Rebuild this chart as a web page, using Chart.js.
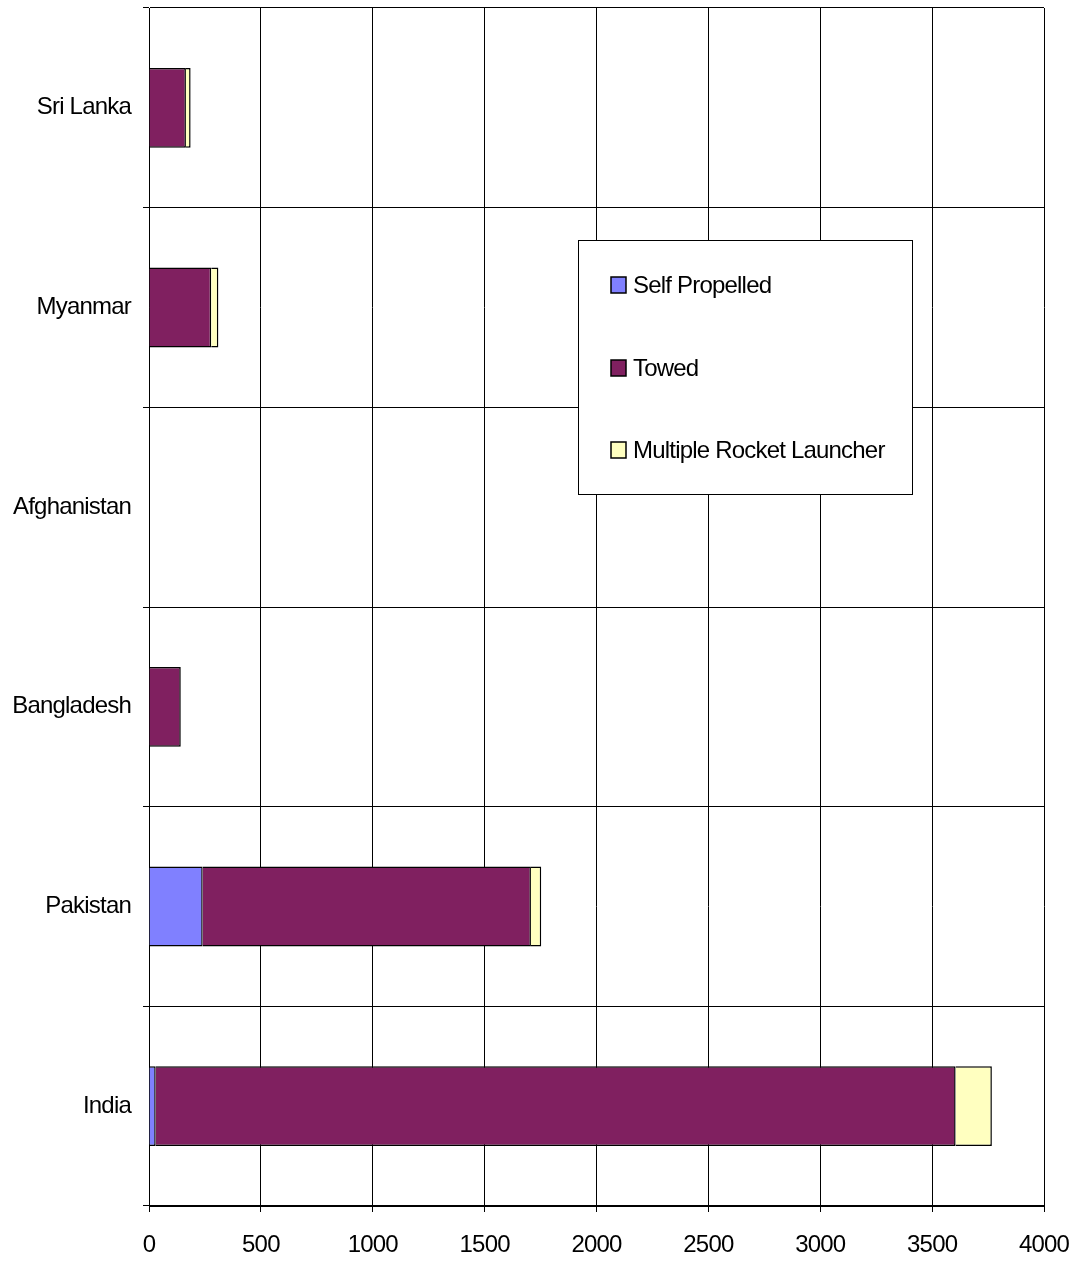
<!DOCTYPE html>
<html>
<head>
<meta charset="utf-8">
<script src="https://cdn.jsdelivr.net/npm/chart.js@4"></script>
<style>
  html, body { margin: 0; padding: 0; background: #fff; }
  #wrap { width: 1083px; height: 1261px; position: relative; }
</style>
</head>
<body>
<div id="wrap"><canvas id="c" width="1083" height="1261"></canvas></div>
<script>
const categories = ['Sri Lanka', 'Myanmar', 'Afghanistan', 'Bangladesh', 'Pakistan', 'India'];
const selfPropelled = [0, 0, 0, 0, 240, 30];
const towed = [165, 278, 0, 142, 1467, 3575];
const multipleRocketLauncher = [21, 32, 0, 0, 46, 162];
const seriesNames = ['Self Propelled', 'Towed', 'Multiple Rocket Launcher'];
const seriesColors = ['#8080FF', '#802060', '#FFFFC0'];
const xTicks = [0, 500, 1000, 1500, 2000, 2500, 3000, 3500, 4000];

const FONT = "'Liberation Sans', Arial, sans-serif";

const spacingPlugin = {
  id: 'spacing',
  beforeDraw(chart) { chart.ctx.letterSpacing = '-0.8px'; }
};

const boxLegend = {
  id: 'boxLegend',
  afterDraw(chart) {
    const ctx = chart.ctx;
    ctx.save();
    ctx.letterSpacing = '-0.8px';
    const x0 = 578.5, y0 = 240.5, w = 334, h = 254;
    ctx.fillStyle = '#fff';
    ctx.fillRect(x0, y0, w, h);
    ctx.strokeStyle = '#000';
    ctx.lineWidth = 1;
    ctx.strokeRect(x0, y0, w, h);
    const rows = [285, 368, 450];
    ctx.font = '24px ' + FONT;
    ctx.textBaseline = 'middle';
    ctx.textAlign = 'left';
    chart.data.datasets.forEach((ds, i) => {
      const cy = rows[i];
      ctx.fillStyle = ds.backgroundColor;
      ctx.fillRect(611, cy - 8, 15, 16);
      ctx.strokeStyle = '#000';
      ctx.lineWidth = 1.5;
      ctx.strokeRect(611, cy - 8, 15, 16);
      ctx.fillStyle = '#000';
      ctx.fillText(ds.label, 633, cy + 1);
    });
    ctx.restore();
  }
};

const datasets = [selfPropelled, towed, multipleRocketLauncher].map((vals, i) => ({
  label: seriesNames[i],
  data: vals,
  backgroundColor: seriesColors[i],
  borderColor: '#000',
  borderWidth: 1.5,
  borderSkipped: 'start',
  categoryPercentage: 1,
  barPercentage: 0.4
}));

new Chart(document.getElementById('c'), {
  type: 'bar',
  data: { labels: categories, datasets },
  options: {
    indexAxis: 'y',
    responsive: false,
    animation: false,
    devicePixelRatio: 1,
    layout: { padding: { top: 8, right: 39, left: 0, bottom: 0 } },
    plugins: { legend: { display: false }, tooltip: { enabled: false } },
    scales: {
      x: {
        stacked: true,
        min: 0, max: 4000,
        afterBuildTicks(scale) { scale.ticks = xTicks.map(v => ({ value: v })); },
        afterFit(scale) { scale.height = 55; scale.paddingLeft = 0; scale.paddingRight = 0; },
        grid: { color: '#000', lineWidth: 1, tickLength: 6, drawTicks: true },
        border: { color: '#000', width: 1 },
        ticks: { color: '#000', font: { family: FONT, size: 24 }, padding: 19, maxRotation: 0,
                 callback: (v) => String(v) }
      },
      y: {
        stacked: true,
        afterFit(scale) { scale.width = 149; scale.paddingTop = 0; scale.paddingBottom = 0; },
        grid: { color: '#000', lineWidth: 1, tickLength: 6, offset: true },
        border: { color: '#000', width: 1 },
        ticks: { color: '#000', font: { family: FONT, size: 24 }, padding: 12 }
      }
    }
  },
  plugins: [spacingPlugin, boxLegend]
});
</script>
</body>
</html>
